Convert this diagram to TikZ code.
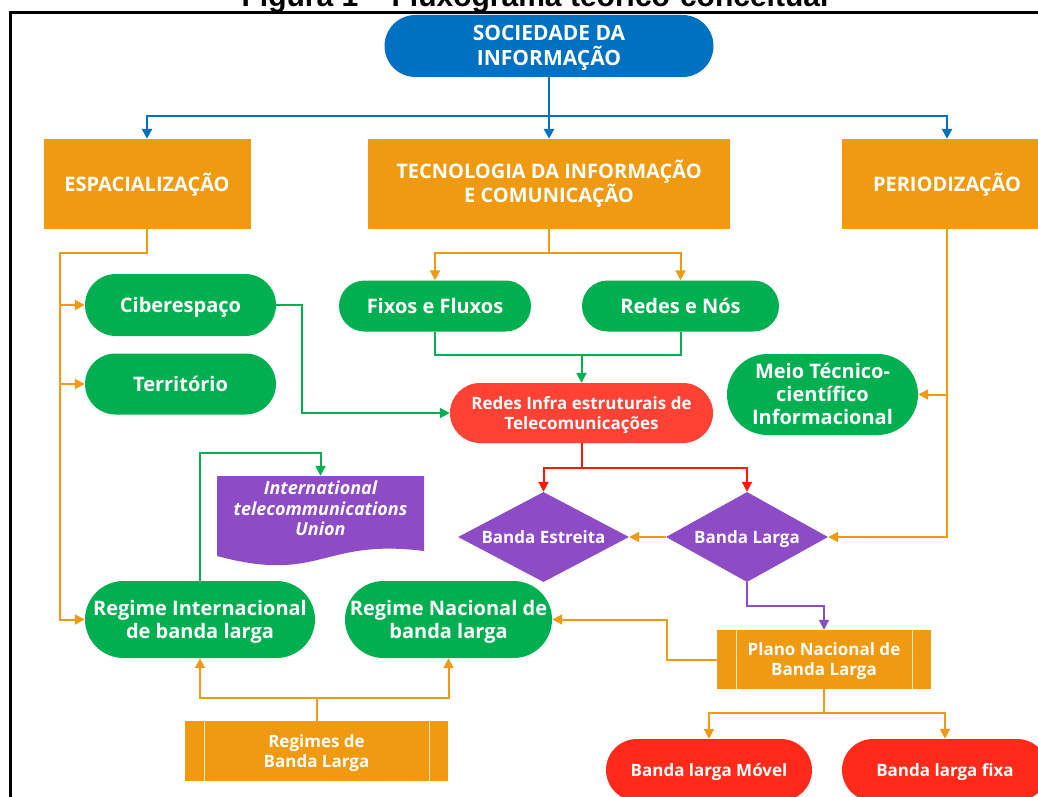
\documentclass[tikz,border=0pt]{standalone}
\usepackage{fontspec}
\setmainfont{Open Sans}
\newfontfamily\titlefont{Liberation Sans}
\usetikzlibrary{arrows.meta,shapes.geometric,calc}
\definecolor{cblue}{HTML}{0070C0}
\definecolor{corange}{HTML}{EF9A10}
\definecolor{cgreen}{HTML}{00AF50}
\definecolor{cred}{HTML}{FF4234}
\definecolor{cdeep}{HTML}{FF2A1A}
\definecolor{cpurple}{HTML}{8E4BC6}
\definecolor{cinner}{HTML}{FDE6C6}
\begin{document}
\begin{tikzpicture}[x=1pt,y=-1pt,
  % text is centred on the span from the first cap line to the last baseline
  lbl/.style={text=white, align=center, inner sep=0pt,
    font=\fontsize{20}{23}\selectfont\bfseries, text height=14.3pt, text depth=0pt},
  two/.style={text height=37.3pt},
  three/.style={text height=60.3pt},
  smalltext/.style={font=\fontsize{17}{20}\selectfont\bfseries, text height=12.1pt},
  smalltwo/.style={smalltext, text height=32.1pt},
  pill/.style n args={3}{lbl, rectangle, fill=#3, minimum width=#1,
    minimum height=#2, rounded corners=#2/2},
  orbox/.style 2 args={lbl, rectangle, fill=corange, minimum width=#1, minimum height=#2},
  predef/.style 2 args={orbox={#1}{#2}, smalltwo,
    path picture={
      \draw[cinner, line width=1pt]
        ([xshift=19pt]path picture bounding box.north west) --
        ([xshift=19pt]path picture bounding box.south west)
        ([xshift=-19pt]path picture bounding box.north east) --
        ([xshift=-19pt]path picture bounding box.south east);}},
  decision/.style 2 args={lbl, smalltext, diamond, fill=cpurple,
    minimum width=#1, minimum height=#2},
  ln/.style={line width=2pt},
  arr/.style={line width=2pt, -{Triangle[length=10pt,width=10pt]}},
]
\useasboundingbox (0,0) rectangle (1038,797);

% caption and frame
\node[font=\titlefont\bfseries\fontsize{30}{30}\selectfont, anchor=base, inner sep=0pt]
  (title) at (535,7) {Figura 1 – Fluxograma teórico-conceitual};
\draw[line width=3pt] (10,805) -- (10,13) -- (1045,13);

% top level
\node[pill={329pt}{62pt}{cblue}, font=\fontsize{21}{25}\selectfont\bfseries,
  text height=40pt]
  (soc) at (549,46) {SOCIEDADE DA\\INFORMAÇÃO};
\node[orbox={207pt}{90pt}] (espa) at (147,184) {ESPACIALIZAÇÃO};
\node[orbox={362pt}{90pt}, two] (tic) at (549,184) {TECNOLOGIA DA INFORMAÇÃO\\E COMUNICAÇÃO};
\node[orbox={210pt}{90pt}] (peri) at (947,184) {PERIODIZAÇÃO};

% second level
\node[pill={191pt}{62pt}{cgreen}] (ciber) at (180.5,305) {Ciberespaço};
\node[pill={191pt}{61pt}{cgreen}] (terr) at (180.5,384) {Território};
\node[pill={192pt}{51pt}{cgreen}] (fixos) at (435,306) {Fixos e Fluxos};
\node[pill={197pt}{51pt}{cgreen}] (redes) at (680.5,306) {Redes e Nós};
\node[pill={263pt}{60pt}{cred}, smalltwo] (infra) at (581.5,413)
  {Redes Infra estruturais de\\Telecomunicações};
\node[pill={191pt}{81pt}{cgreen}, three] (meio) at (822.5,394.5)
  {Meio Técnico-\\científico\\Informacional};

% decisions
\node[decision={171pt}{90pt}] (bes) at (543.5,537) {\makebox[0pt]{Banda Estreita}};
\node[decision={162pt}{90pt}] (bla) at (747,537) {\makebox[0pt]{Banda Larga}};

% document shape
\fill[cpurple] (217,476) -- (424,476) -- (424,551)
  .. controls (321,538) and (321,584) .. (217,556) -- cycle;
\node[lbl, font=\fontsize{18}{20.5}\selectfont\bfseries\itshape,
  text height=53.9pt,
  minimum width=207pt, minimum height=66pt]
  (itu) at (320.5,509) {International\\telecommunications\\Union};

% regimes
\node[pill={230pt}{77pt}{cgreen}, two] (rint) at (200,619.5) {Regime Internacional\\de banda larga};
\node[pill={207pt}{77pt}{cgreen}, two] (rnac) at (448.5,619.5) {Regime Nacional de\\banda larga};
\node[predef={214pt}{59pt}] (plano) at (824,659.5) {Plano Nacional de\\Banda Larga};
\node[predef={263pt}{60pt}] (regs) at (316.5,751) {Regimes de\\Banda Larga};
\node[pill={206pt}{62pt}{cdeep}, smalltext] (bmov) at (709,770) {Banda larga Móvel};
\node[pill={206pt}{62pt}{cdeep}, smalltext] (bfix) at (945,770) {Banda larga fixa};

% junction points
\coordinate (jb) at (549,116);
\coordinate (lb) at (60,253);
\coordinate (tb) at (549,253);
\coordinate (gk) at (302,413);
\coordinate (gm) at (581.5,355);
\coordinate (rb) at (581.5,468);
\coordinate (pk) at (824,606);
\coordinate (ok) at (667,619.5);
\coordinate (pb) at (824,713);
\coordinate (qb) at (316.5,698);
\coordinate (ik) at (320.5,453);

% blue tree
\draw[ln, cblue, line width=2.5pt] (soc.south) -- (jb);
\draw[arr, cblue, line width=2.5pt] (jb) -| (espa.north);
\draw[arr, cblue, line width=2.5pt] (jb) -- (tic.north);
\draw[arr, cblue, line width=2.5pt] (jb) -| (peri.north);

% spatialisation branch
\draw[arr, corange] (espa.south) |- (lb) |- (rint.west);
\draw[arr, corange] (lb |- ciber.west) -- (ciber.west);
\draw[arr, corange] (lb |- terr.west) -- (terr.west);

% technology branch
\draw[ln, corange] (tic.south) -- (tb);
\draw[arr, corange] (tb) -| (fixos.north);
\draw[arr, corange] (tb) -| (redes.north);
\draw[ln, cgreen] (fixos.south) |- (gm) -| (redes.south);
\draw[arr, cgreen] (gm) -- (infra.north);
\draw[arr, cgreen] (ciber.east) -| (gk) -- (infra.west);

% periodisation branch
\draw[arr, corange] (peri.south) |- (bla.east);
\draw[arr, corange] (peri.south |- meio.east) -- (meio.east);

% infrastructure to bands
\draw[ln, red!80!orange] (infra.south) -- (rb);
\draw[arr, red!80!orange] (rb) -| (bes.north);
\draw[arr, red!80!orange] (rb) -| (bla.north);
\draw[arr, corange] (bla.west) -- (bes.east);
\draw[arr, cpurple] (bla.south) |- (pk) -- (plano.north);

% national plan
\draw[arr, corange] (plano.west) -| (ok) -- (rnac.east);
\draw[ln, corange] (plano.south) -- (pb);
\draw[arr, corange] (pb) -| (bmov.north);
\draw[arr, corange] (pb) -| (bfix.north);

% regimes
\draw[ln, corange] (regs.north) -- (qb);
\draw[arr, corange] (qb) -| (rint.south);
\draw[arr, corange] (qb) -| (rnac.south);
\draw[arr, cgreen] (rint.north) |- (ik) -- (itu.north);
\end{tikzpicture}
\end{document}
